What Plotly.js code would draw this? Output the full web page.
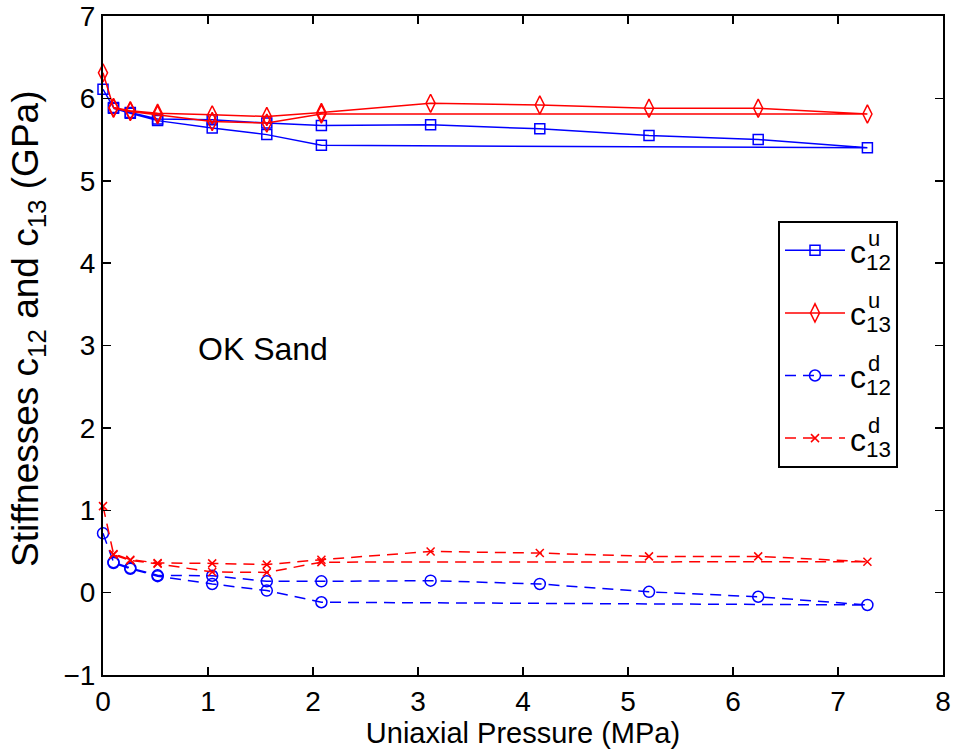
<!DOCTYPE html>
<html>
<head>
<meta charset="utf-8">
<script src="https://cdn.plot.ly/plotly-3.0.1.min.js"></script>
<style>html,body{margin:0;padding:0;background:#fff}#chart{width:955px;height:753px}</style>
</head>
<body>
<div id="chart"></div>
<script>
// Uniaxial pressure (MPa): loading to 7.28, then unloading
const pressure = [0, 0.1, 0.26, 0.52, 1.04, 1.56, 2.08, 3.12, 4.16, 5.2, 6.24, 7.28, 2.08, 1.56, 1.04, 0.52, 0.26, 0.1];
const c12u = [6.11, 5.89, 5.83, 5.75, 5.74, 5.70, 5.67, 5.68, 5.63, 5.55, 5.50, 5.40, 5.43, 5.56, 5.64, 5.73, 5.82, 5.88];
const c13u = [6.31, 5.89, 5.85, 5.82, 5.80, 5.78, 5.83, 5.94, 5.92, 5.88, 5.88, 5.81, 5.81, 5.70, 5.72, 5.80, 5.84, 5.88];
const c12d = [0.72, 0.37, 0.30, 0.21, 0.205, 0.137, 0.137, 0.145, 0.105, 0.01, -0.05, -0.15, -0.117, 0.025, 0.105, 0.20, 0.29, 0.36];
const c13d = [1.05, 0.47, 0.40, 0.36, 0.355, 0.34, 0.40, 0.50, 0.48, 0.44, 0.44, 0.375, 0.37, 0.245, 0.25, 0.35, 0.39, 0.46];
// legend labels: c with superscript (u/d) stacked over subscript (12/13)
const seriesBase = ['c<sub>12</sub>', 'c<sub>13</sub>', 'c<sub>12</sub>', 'c<sub>13</sub>'];
const seriesSup = ['u', 'u', 'd', 'd'];
const xTickVals = [0, 1, 2, 3, 4, 5, 6, 7, 8];
const yTickVals = [-1, 0, 1, 2, 3, 4, 5, 6, 7];
const xLabel = 'Uniaxial Pressure (MPa)';
const yLabel = 'Stiffnesses c<sub>12</sub> and c<sub>13</sub> (GPa)';
const noteText = 'OK Sand';

const BLUE = '#0000ff', RED = '#ff0000';
const FONT = 'Liberation Sans, Arial, Helvetica, sans-serif';
const L = 103, R = 12, T = 16, B = 78, W = 955, H = 753;
const PW = W - L - R, PH = H - T - B;
const px2x = function (px) { return (px - L) / PW; };
const py2y = function (py) { return (H - B - py) / PH; };

function tr(y, i, color, dash, symbol, size) {
  return {
    x: pressure, y: y, name: seriesBase[i], type: 'scatter', mode: 'lines+markers',
    legendgroup: 'g' + i, cliponaxis: false,
    line: {color: color, width: 1.5, dash: dash},
    marker: {symbol: symbol, size: size, color: color, line: {color: color, width: 1.5}}
  };
}
const data = [
  tr(c12u, 0, BLUE, 'solid', 'square-open', 10),
  tr(c13u, 1, RED, 'solid', 'diamond-tall-open', 13),
  tr(c12d, 2, BLUE, '11px,7px', 'circle-open', 11),
  tr(c13d, 3, RED, '11px,7px', 'x-thin-open', 8)
];

const axisCommon = {
  showline: true, linecolor: '#000', linewidth: 2, mirror: 'ticks',
  ticks: 'inside', ticklen: 8, tickwidth: 1.5, tickcolor: '#000',
  showgrid: false, zeroline: false, tickmode: 'array',
  ticklabeloverflow: 'allow',
  tickfont: {family: FONT, size: 28, color: '#000'}
};
const layout = {
  width: W, height: H,
  margin: {l: L, r: R, t: T, b: B},
  paper_bgcolor: '#fff', plot_bgcolor: '#fff',
  font: {family: FONT, size: 28, color: '#000'},
  xaxis: Object.assign({}, axisCommon, {
    range: [0, 8], tickvals: xTickVals,
    title: {text: xLabel, font: {family: FONT, size: 29}, standoff: 4}
  }),
  yaxis: Object.assign({}, axisCommon, {
    range: [-1, 7], tickvals: yTickVals
  }),
  showlegend: true,
  legend: {
    x: px2x(778), y: py2y(221), xanchor: 'left', yanchor: 'top',
    bgcolor: '#fff', bordercolor: '#000', borderwidth: 2,
    font: {family: FONT, size: 32, color: '#000'},
    tracegroupgap: 18, itemwidth: 60
  },
  annotations: [{
    x: 0.89, y: 2.96, xref: 'x', yref: 'y', xanchor: 'left', yanchor: 'middle',
    text: noteText, showarrow: false, font: {family: FONT, size: 32, color: '#000'}
  }, {
    x: px2x(28), y: py2y(329), xref: 'paper', yref: 'paper', xanchor: 'center', yanchor: 'middle',
    text: yLabel, textangle: -90, showarrow: false, font: {family: FONT, size: 37, color: '#000'}
  }]
};
Plotly.newPlot('chart', data, layout, {displayModeBar: false, staticPlot: true}).then(function (gd) {
  // place the stacked superscripts over the subscripts in the legend
  const host = gd.getBoundingClientRect();
  const texts = gd.querySelectorAll('.legend .traces .legendtext');
  const anns = layout.annotations.slice();
  texts.forEach(function (t, i) {
    let sub = null;
    t.querySelectorAll('tspan').forEach(function (s) {
      if (!sub && /\d/.test(s.textContent)) sub = s;
    });
    if (!sub) return;
    const r = sub.getBoundingClientRect();
    const x = r.left - host.left, y = r.top - host.top;
    anns.push({
      xref: 'paper', yref: 'paper', x: px2x(x), y: py2y(y + 3),
      xanchor: 'left', yanchor: 'bottom', showarrow: false,
      text: seriesSup[i], font: {family: FONT, size: 22, color: '#000'}
    });
  });
  return Plotly.relayout(gd, {annotations: anns});
});
</script>
</body>
</html>
